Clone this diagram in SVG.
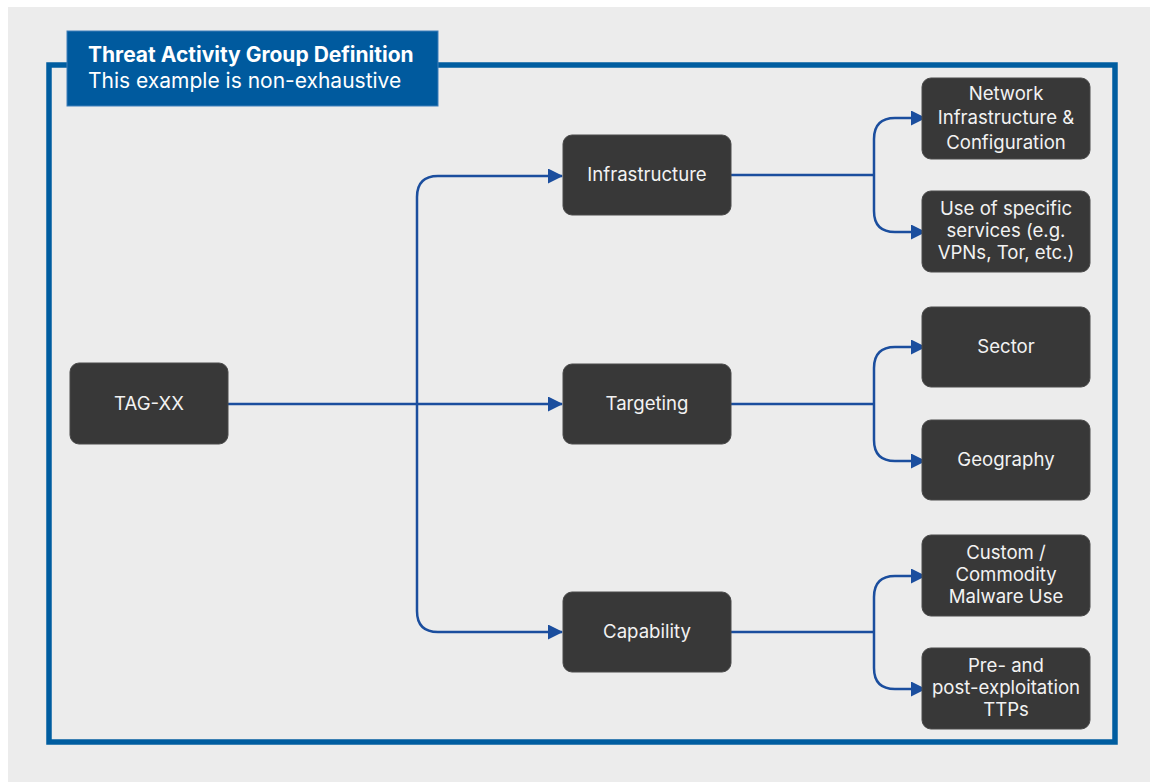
<svg xmlns="http://www.w3.org/2000/svg" width="1150" height="782" viewBox="0 0 1150 782">
  <defs>
    <marker id="arr" markerWidth="15" markerHeight="15" viewBox="0 0 15 15" refX="14" refY="7.5" orient="auto" markerUnits="userSpaceOnUse">
      <path d="M0,0 L15,7.5 L0,15 Z" fill="#1b4e9e"/>
    </marker>
  </defs>
  <style>
    .node rect { fill: #383838; stroke: #4a4a4a; stroke-width: 1; }
    .node text { fill: #f2f2f2; font-family: Inter, "Noto Sans", "Liberation Sans", sans-serif; font-size: 18.6px; text-anchor: middle; }
    .conn path { fill: none; stroke: #1b4e9e; stroke-width: 2.5; }
    .title { fill: #ffffff; font-family: Inter, "Noto Sans", "Liberation Sans", sans-serif; font-size: 21px; }
  </style>
  <rect x="0" y="0" width="1150" height="782" fill="#ffffff"/>
  <rect x="8" y="7" width="1142" height="775" fill="#ececec"/>
  <rect id="frame" x="49" y="65" width="1066" height="677" fill="none" stroke="#005da0" stroke-width="5.5"/>
  <g id="title">
    <rect x="67" y="31" width="371" height="75" fill="#005a9e" stroke="#3f7fba" stroke-width="1"/>
    <text class="title" x="88" y="62" font-weight="bold">Threat Activity Group Definition</text>
    <text class="title" x="88" y="88">This example is non-exhaustive</text>
  </g>
  <g id="connectors" class="conn">
    <path d="M228,404 H562" marker-end="url(#arr)"/>
    <path d="M417,404 V197 Q417,176 438,176 H562" marker-end="url(#arr)"/>
    <path d="M417,404 V611 Q417,632 438,632 H562" marker-end="url(#arr)"/>
    <path d="M731,175 H874"/>
    <path d="M874,175 V139 Q874,118 895,118 H925" marker-end="url(#arr)"/>
    <path d="M874,175 V211 Q874,232 895,232 H925" marker-end="url(#arr)"/>
    <path d="M731,404 H874"/>
    <path d="M874,404 V368 Q874,347 895,347 H925" marker-end="url(#arr)"/>
    <path d="M874,404 V440 Q874,461 895,461 H925" marker-end="url(#arr)"/>
    <path d="M731,632 H874"/>
    <path d="M874,632 V597 Q874,576 895,576 H925" marker-end="url(#arr)"/>
    <path d="M874,632 V668 Q874,689 895,689 H925" marker-end="url(#arr)"/>
  </g>
  <g id="tag-xx" class="node">
    <rect x="70" y="363" width="158" height="81" rx="9"/>
    <text x="149" y="410">TAG-XX</text>
  </g>
  <g id="infrastructure" class="node">
    <rect x="563" y="135" width="168" height="80" rx="9"/>
    <text x="647" y="181">Infrastructure</text>
  </g>
  <g id="targeting" class="node">
    <rect x="563" y="364" width="168" height="80" rx="9"/>
    <text x="647" y="410">Targeting</text>
  </g>
  <g id="capability" class="node">
    <rect x="563" y="592" width="168" height="80" rx="9"/>
    <text x="647" y="638">Capability</text>
  </g>
  <g id="network" class="node">
    <rect x="922" y="78" width="168" height="81" rx="9"/>
    <text x="1006" y="100">Network</text>
    <text x="1006" y="124">Infrastructure &amp;</text>
    <text x="1006" y="149">Configuration</text>
  </g>
  <g id="services" class="node">
    <rect x="922" y="191" width="168" height="81" rx="9"/>
    <text x="1006" y="215">Use of specific</text>
    <text x="1006" y="237">services (e.g.</text>
    <text x="1006" y="259">VPNs, Tor, etc.)</text>
  </g>
  <g id="sector" class="node">
    <rect x="922" y="307" width="168" height="80" rx="9"/>
    <text x="1006" y="353">Sector</text>
  </g>
  <g id="geography" class="node">
    <rect x="922" y="420" width="168" height="80" rx="9"/>
    <text x="1006" y="466">Geography</text>
  </g>
  <g id="malware" class="node">
    <rect x="922" y="535" width="168" height="81" rx="9"/>
    <text x="1006" y="559">Custom /</text>
    <text x="1006" y="581">Commodity</text>
    <text x="1006" y="603">Malware Use</text>
  </g>
  <g id="ttps" class="node">
    <rect x="922" y="648" width="168" height="81" rx="9"/>
    <text x="1006" y="672">Pre- and</text>
    <text x="1006" y="694">post-exploitation</text>
    <text x="1006" y="716">TTPs</text>
  </g>
</svg>
